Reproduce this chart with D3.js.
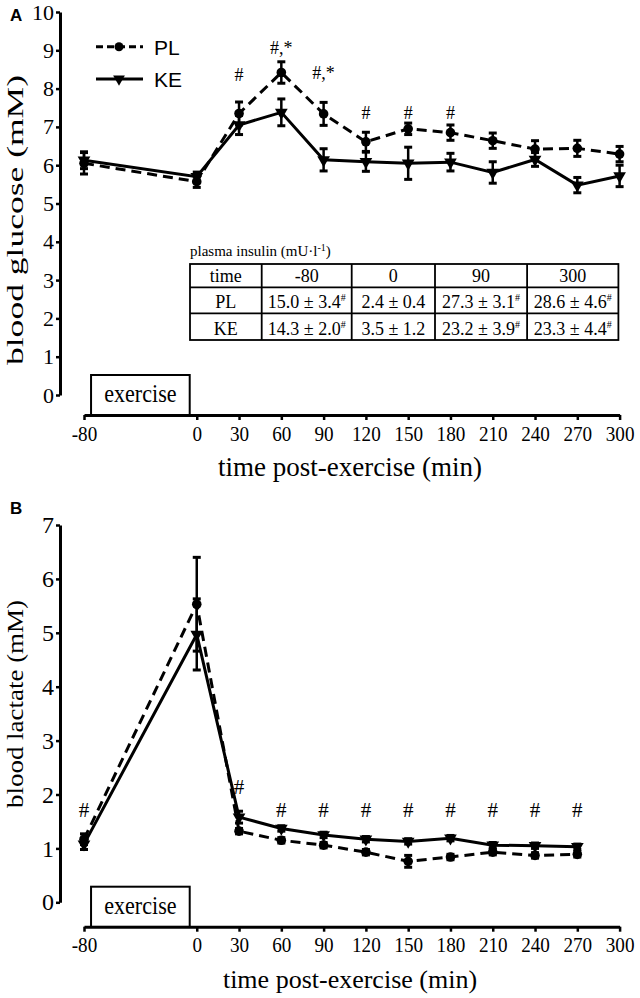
<!DOCTYPE html>
<html><head><meta charset="utf-8">
<script src="https://cdn.jsdelivr.net/npm/d3@7"></script>
<style>body{margin:0;background:#fff} svg{display:block}</style>
</head><body><svg id="c" width="640" height="998"></svg>
<script>
// ---------- data ----------
const timeTicks = [-80,0,30,60,90,120,150,180,210,240,270,300];

const glucoseTimes = [-80,0,30,60,90,120,150,180,210,240,270,300];
const glucosePL    = [6.05,5.57,7.35,8.42,7.34,6.61,6.95,6.85,6.64,6.42,6.44,6.29];
const glucosePLerr = [0.28,0.15,0.30,0.28,0.30,0.25,0.15,0.20,0.20,0.22,0.21,0.20];
const glucoseKE    = [6.13,5.70,7.05,7.38,6.14,6.09,6.05,6.08,5.81,6.15,5.48,5.72];
const glucoseKEerr = [0.22,0.12,0.25,0.35,0.29,0.25,0.42,0.23,0.28,0.18,0.20,0.28];
const glucoseTicks = [0,1,2,3,4,5,6,7,8,9,10];
const glucoseSig = [
  {t:30, v:8.36, label:"#"},
  {t:60, v:9.06, label:"#,*"},
  {t:90, v:8.41, label:"#,*"},
  {t:120, v:7.36, label:"#"},
  {t:150, v:7.36, label:"#"},
  {t:180, v:7.36, label:"#"}
];

const lactateTimes = [-80,0,30,60,90,120,150,180,210,240,270];
const lactatePL    = [1.17,5.53,1.32,1.15,1.06,0.93,0.76,0.84,0.93,0.87,0.89];
const lactatePLerr = [0.10,0.87,0.05,0.05,0.05,0.05,0.11,0.05,0.05,0.05,0.05];
const lactateKE    = [1.08,4.97,1.58,1.37,1.25,1.17,1.13,1.19,1.06,1.05,1.03];
const lactateKEerr = [0.10,0.66,0.11,0.05,0.05,0.05,0.05,0.05,0.05,0.05,0.05];
const lactateTicks = [0,1,2,3,4,5,6,7];
const lactateSig = [
  {t:-80, v:1.71, label:"#"},
  {t:30, v:2.14, label:"#"},
  {t:60, v:1.71, label:"#"},
  {t:90, v:1.71, label:"#"},
  {t:120, v:1.71, label:"#"},
  {t:150, v:1.71, label:"#"},
  {t:180, v:1.71, label:"#"},
  {t:210, v:1.71, label:"#"},
  {t:240, v:1.71, label:"#"},
  {t:270, v:1.71, label:"#"}
];

const exercisePeriod = [-75, -5];

const insulinHeader = ["time","-80","0","90","300"];
const insulinPL     = ["15.0 ± 3.4","2.4 ± 0.4","27.3 ± 3.1","28.6 ± 4.6"];
const insulinPLsig  = [true,false,true,true];
const insulinKE     = ["14.3 ± 2.0","3.5 ± 1.2","23.2 ± 3.9","23.3 ± 4.4"];
const insulinKEsig  = [true,false,true,true];

// ---------- drawing ----------
const SERIF = "'Liberation Serif','Times New Roman',serif";
const SANS = "'Liberation Sans',Arial,sans-serif";
const svg = d3.select("#c");
const fmt = d => String(d);

function panel(cfg) {
  const g = svg.append("g");
  const x = d3.scaleLinear().domain([-80,300]).range([84,619.6]);
  const y = d3.scaleLinear().domain([0,cfg.ymax]).range([cfg.y0,cfg.yTop]);

  // y axis
  const ya = g.append("g").attr("transform","translate(60,0)")
    .call(d3.axisLeft(y).tickValues(cfg.yTicks).tickSize(4).tickSizeOuter(0).tickPadding(2).tickFormat(fmt));
  ya.select(".domain").attr("stroke","#000").attr("stroke-width",3);
  ya.selectAll(".tick line").attr("stroke","#000").attr("stroke-width",2.5);
  ya.selectAll(".tick text").attr("font-family",SERIF).attr("font-size",cfg.yFont).attr("fill","#000");

  // x axis
  const xa = g.append("g").attr("transform",`translate(0,${cfg.xAxisY})`)
    .call(d3.axisBottom(x).tickValues(timeTicks).tickSize(5).tickSizeOuter(0).tickPadding(5).tickFormat(fmt));
  xa.select(".domain").attr("stroke","#000").attr("stroke-width",3);
  xa.selectAll(".tick line").attr("stroke","#000").attr("stroke-width",2.5);
  xa.selectAll(".tick text").attr("font-family",SERIF).attr("font-size",22).attr("fill","#000")
    .attr("transform","scale(0.87,1)");

  // x title
  g.append("text").attr("x",350).attr("y",cfg.xAxisY+cfg.titleOff)
    .attr("text-anchor","middle").attr("font-family",SERIF).attr("font-size",cfg.xTitleFont)
    .text("time post-exercise (min)");
  // y title
  g.append("text").attr("transform",`translate(23,${cfg.yTitleY}) rotate(-90)`)
    .attr("text-anchor","middle").attr("font-family",SERIF).attr("font-size",24)
    .attr("textLength",cfg.yTitleLen).attr("lengthAdjust","spacingAndGlyphs")
    .text(cfg.yTitle);
  // panel letter
  g.append("text").attr("x",10).attr("y",cfg.letterY).attr("font-family",SANS)
    .attr("font-weight","bold").attr("font-size",17).text(cfg.letter);

  // exercise box
  const bx0 = x(exercisePeriod[0]), bx1 = x(exercisePeriod[1]);
  g.append("rect").attr("x",bx0).attr("y",cfg.xAxisY-cfg.boxH).attr("width",bx1-bx0).attr("height",cfg.boxH)
    .attr("fill","#fff").attr("stroke","#000").attr("stroke-width",2);
  g.append("text").attr("transform",`translate(${(bx0+bx1)/2},${cfg.xAxisY-13}) scale(0.85,1)`)
    .attr("text-anchor","middle").attr("font-family",SERIF).attr("font-size",26).text("exercise");

  // series
  const series = [
    {t:cfg.times, v:cfg.pl, e:cfg.plErr, dash:"10,6", marker:"circle"},
    {t:cfg.times, v:cfg.ke, e:cfg.keErr, dash:null, marker:"tri"}
  ];
  const line = d3.line().x(d=>x(d[0])).y(d=>y(d[1]));
  series.forEach(s=>{
    const pts = s.t.map((t,i)=>[t,s.v[i],s.e[i]]);
    g.append("path").attr("d",line(pts)).attr("fill","none").attr("stroke","#000")
      .attr("stroke-width",3).attr("stroke-dasharray",s.dash);
    const eb = g.append("g");
    pts.forEach(p=>{
      const cx = x(p[0]), yt = y(p[1]+p[2]), yb = y(p[1]-p[2]);
      eb.append("line").attr("x1",cx).attr("x2",cx).attr("y1",yt).attr("y2",yb).attr("stroke","#000").attr("stroke-width",2.5);
      [yt,yb].forEach(yy=>eb.append("line").attr("x1",cx-4).attr("x2",cx+4).attr("y1",yy).attr("y2",yy).attr("stroke","#000").attr("stroke-width",3));
    });
    pts.forEach(p=>{
      if (s.marker==="circle") {
        g.append("circle").attr("cx",x(p[0])).attr("cy",y(p[1])).attr("r",4.8).attr("fill","#000");
      } else {
        g.append("path").attr("d",d3.symbol(d3.symbolTriangle,70)())
          .attr("transform",`translate(${x(p[0])},${y(p[1])}) rotate(180)`).attr("fill","#000");
      }
    });
  });

  // significance labels
  cfg.sig.forEach(s=>{
    g.append("text").attr("x",x(s.t)).attr("y",y(s.v)).attr("dy","0.35em")
      .attr("text-anchor","middle").attr("font-family",SERIF).attr("font-size",cfg.sigFont).text(s.label);
  });
  return {g,x,y};
}

const A = panel({
  letter:"A", letterY:21, ymax:10, y0:395, yTop:12, yTicks:glucoseTicks, yFont:22,
  xAxisY:415, titleOff:61, xTitleFont:27, yTitle:"blood glucose (mM)", yTitleY:220, yTitleLen:290,
  boxH:40, times:glucoseTimes, pl:glucosePL, plErr:glucosePLerr, ke:glucoseKE, keErr:glucoseKEerr,
  sig:glucoseSig, sigFont:18
});
const B = panel({
  letter:"B", letterY:514, ymax:7, y0:902.3, yTop:525, yTicks:lactateTicks, yFont:24,
  xAxisY:926.7, titleOff:61, xTitleFont:26, yTitle:"blood lactate (mM)", yTitleY:704, yTitleLen:208,
  boxH:40, times:lactateTimes, pl:lactatePL, plErr:lactatePLerr, ke:lactateKE, keErr:lactateKEerr,
  sig:lactateSig, sigFont:21
});

// legend (panel A)
const leg = svg.append("g");
[{label:"PL", y:46.7, dash:"7,4", marker:"circle", ty:55},
 {label:"KE", y:79, dash:null, marker:"tri", ty:87}].forEach(l=>{
  leg.append("line").attr("x1",96).attr("x2",143).attr("y1",l.y).attr("y2",l.y)
    .attr("stroke","#000").attr("stroke-width",3).attr("stroke-dasharray",l.dash);
  if (l.marker==="circle") leg.append("circle").attr("cx",119).attr("cy",l.y).attr("r",4.5);
  else leg.append("path").attr("d",d3.symbol(d3.symbolTriangle,60)()).attr("transform",`translate(119,${l.y}) rotate(180)`);
  leg.append("text").attr("x",154).attr("y",l.ty).attr("font-family",SANS).attr("font-size",21).text(l.label);
});

// insulin table
const tb = svg.append("g");
const colX = [190,261.7,351.7,435,527.1,618.4];
const rowY = [264,287.3,313.3,340];
tb.append("text").attr("x",190).attr("y",256).attr("font-family",SERIF).attr("font-size",15)
  .html("plasma insulin (mU·l<tspan dy='-5' font-size='10'>-1</tspan><tspan dy='5'>)</tspan>");
tb.append("rect").attr("x",colX[0]).attr("y",rowY[0]).attr("width",colX[5]-colX[0]).attr("height",rowY[3]-rowY[0])
  .attr("fill","#fff").attr("stroke","#000").attr("stroke-width",1.8);
colX.slice(1,5).forEach(cx=>tb.append("line").attr("x1",cx).attr("x2",cx).attr("y1",rowY[0]).attr("y2",rowY[3]).attr("stroke","#000").attr("stroke-width",1.8));
rowY.slice(1,3).forEach(ry=>tb.append("line").attr("x1",colX[0]).attr("x2",colX[5]).attr("y1",ry).attr("y2",ry).attr("stroke","#000").attr("stroke-width",1.8));
const rows = [
  {cells:insulinHeader, sig:[false,false,false,false,false]},
  {cells:["PL"].concat(insulinPL), sig:[false].concat(insulinPLsig)},
  {cells:["KE"].concat(insulinKE), sig:[false].concat(insulinKEsig)}
];
rows.forEach((r,ri)=>{
  r.cells.forEach((c,ci)=>{
    const t = tb.append("text").attr("x",(colX[ci]+colX[ci+1])/2).attr("y",rowY[ri+1]-5.5)
      .attr("text-anchor","middle").attr("font-family",SERIF).attr("font-size",18).text(c);
    if (r.sig[ci]) t.append("tspan").attr("dy",-7).attr("font-size",10).text("#");
  });
});
</script></body></html>
